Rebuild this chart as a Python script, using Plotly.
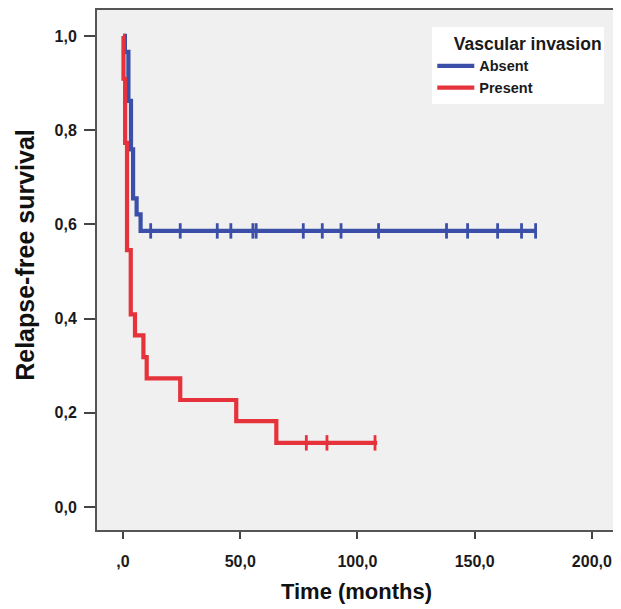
import plotly.graph_objects as go

# Kaplan-Meier step data (time in months, survival proportion)
absent_time = [0, 0.8, 2.3, 3.4, 4.3, 5.8, 7.5, 176.5]
absent_surv = [1.0, 0.966, 0.862, 0.759, 0.655, 0.621, 0.586, 0.586]
absent_censor_time = [11.8, 24.4, 40.2, 46.0, 55.4, 56.8, 76.9, 85.0, 93.0,
                      109.0, 138.0, 147.0, 159.8, 170.0, 176.0]
absent_censor_surv = [0.586] * len(absent_censor_time)

present_time = [0, 0.2, 0.9, 1.7, 3.3, 5.1, 8.7, 10.1, 24.4, 48.3, 65.4, 108.4]
present_surv = [1.0, 0.909, 0.773, 0.545, 0.409, 0.364, 0.318, 0.273, 0.227,
                0.182, 0.136, 0.136]
present_censor_time = [78.2, 87.0, 107.5]
present_censor_surv = [0.136] * len(present_censor_time)

x_tickvals = [0, 50, 100, 150, 200]
x_ticktext = [",0", "50,0", "100,0", "150,0", "200,0"]
y_tickvals = [0, 0.2, 0.4, 0.6, 0.8, 1.0]
y_ticktext = ["0,0", "0,2", "0,4", "0,6", "0,8", "1,0"]

BLUE = "#3b4fa8"
RED = "#e5323b"
FONT = "Liberation Sans, Arial, sans-serif"

fig = go.Figure()
fig.add_trace(go.Scatter(x=absent_time, y=absent_surv, mode="lines",
                         line=dict(shape="hv", color=BLUE, width=4.2),
                         name="<b>Absent</b>"))
fig.add_trace(go.Scatter(x=present_time, y=present_surv, mode="lines",
                         line=dict(shape="hv", color=RED, width=4.2),
                         name="<b>Present</b>"))
fig.add_trace(go.Scatter(x=absent_censor_time, y=absent_censor_surv, mode="markers",
                         marker=dict(symbol="line-ns", size=11,
                                     line=dict(color=BLUE, width=2.8)),
                         showlegend=False))
fig.add_trace(go.Scatter(x=present_censor_time, y=present_censor_surv, mode="markers",
                         marker=dict(symbol="line-ns", size=11,
                                     line=dict(color=RED, width=2.8)),
                         showlegend=False))

NB = "\u00a0"
fig.update_layout(
    width=613, height=601,
    margin=dict(l=89, r=5, t=2, b=79),
    paper_bgcolor="white", plot_bgcolor="#f0f0f0",
    font=dict(family=FONT, color="#1a1a1a"),
    showlegend=True,
    legend=dict(x=0.646, y=0.967, xanchor="left", yanchor="top",
                bgcolor="white", borderwidth=0,
                title=dict(text=NB * 4 + "<b>Vascular invasion</b>", side="top",
                           font=dict(size=17.5, family=FONT, color="#1a1a1a")),
                font=dict(size=14.5, family=FONT, color="#1a1a1a"),
                tracegroupgap=0, itemwidth=37),
    xaxis=dict(range=[-11.1, 210.3], tickvals=x_tickvals, ticktext=x_ticktext,
               ticks="outside", ticklen=7, tickwidth=2, tickcolor="#444",
               ticklabelstandoff=9,
               showline=True, mirror=True, linecolor="#555", linewidth=2,
               showgrid=False, zeroline=False, automargin=False,
               tickfont=dict(size=16, family=FONT, color="#1a1a1a", weight="bold"),
               title=dict(text="<b>Time (months)</b>", standoff=14,
                          font=dict(size=22, family=FONT, color="#111"))),
    yaxis=dict(range=[-0.049, 1.055], tickvals=y_tickvals, ticktext=y_ticktext,
               ticks="outside", ticklen=11, tickwidth=2, tickcolor="#444",
               ticklabelstandoff=4,
               showline=True, mirror=True, linecolor="#555", linewidth=2,
               showgrid=False, zeroline=False, automargin=False,
               tickfont=dict(size=16, family=FONT, color="#1a1a1a", weight="bold")),
    annotations=[dict(text="<b>Relapse-free survival</b>", textangle=-90,
                      xref="paper", yref="paper", x=-0.139, y=0.529,
                      xanchor="center", yanchor="middle", showarrow=False,
                      font=dict(size=25, family=FONT, color="#111"))],
)

fig.write_html("out.html")
